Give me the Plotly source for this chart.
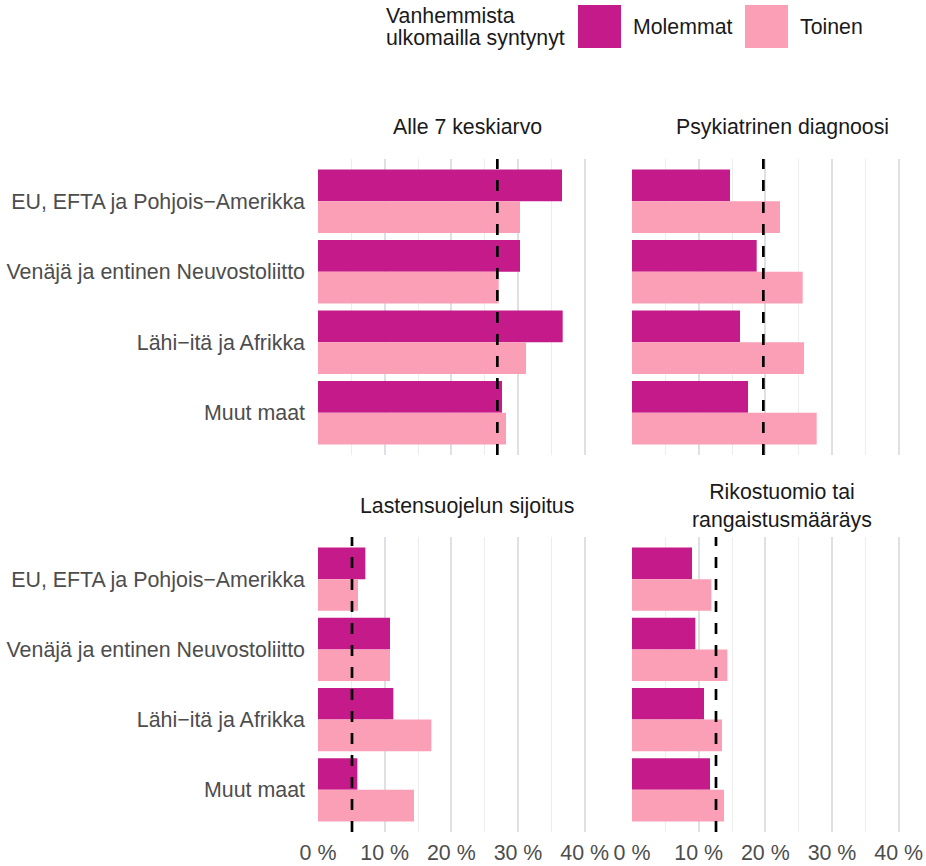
"""Facetted bar chart — outcomes by parents' region of birth."""

import plotly.graph_objects as go

# ------------------------------------------------------------------
# Data (percent)
# ------------------------------------------------------------------
categories = [
    "EU, EFTA ja Pohjois−Amerikka",
    "Venäjä ja entinen Neuvostoliitto",
    "Lähi−itä ja Afrikka",
    "Muut maat",
]
panel_titles = [
    "Alle 7 keskiarvo",
    "Psykiatrinen diagnoosi",
    "Lastensuojelun sijoitus",
    "Rikostuomio tai<br>rangaistusmääräys",
]
molemmat = [
    [36.6, 30.3, 36.7, 27.6],   # Alle 7 keskiarvo
    [14.7, 18.7, 16.2, 17.4],   # Psykiatrinen diagnoosi
    [7.1, 10.8, 11.3, 5.9],     # Lastensuojelun sijoitus
    [9.0, 9.5, 10.8, 11.7],     # Rikostuomio
]
toinen = [
    [30.3, 27.1, 31.2, 28.2],
    [22.2, 25.6, 25.8, 27.7],
    [6.0, 10.8, 17.0, 14.4],
    [11.9, 14.3, 13.5, 13.8],
]
averages = [26.9, 19.7, 5.1, 12.6]
tick_vals = [0, 10, 20, 30, 40]
tick_text = ["0 %", "10 %", "20 %", "30 %", "40 %"]

# ------------------------------------------------------------------
# Style
# ------------------------------------------------------------------
W, H = 926, 866


def px(x):
    return x / W


def py(y):
    return 1 - y / H


C_MOL = "#C51B8A"
C_TOI = "#FA9FB5"
GRID_MAJOR = "#DDE0E4"
GRID_MINOR = "#EDEDED"
FONT = "Liberation Sans, Arial, sans-serif"
TICK_SIZE = 21.4
TEXT_SIZE = 21.3
X_MAX = 41

# panel screen boxes
px_per_pct = 6.667
cols = [318, 632]
rows = [(159, 455), (537, 832)]

fig = go.Figure()

for i in range(4):
    r, c = divmod(i, 2)
    n = "" if i == 0 else str(i + 1)
    xa, ya = "x" + n, "y" + n
    fig.add_trace(go.Bar(
        y=categories, x=molemmat[i], orientation="h", name="Molemmat",
        marker_color=C_MOL, marker_line_width=0, xaxis=xa, yaxis=ya,
        showlegend=False,
    ))
    fig.add_trace(go.Bar(
        y=categories, x=toinen[i], orientation="h", name="Toinen",
        marker_color=C_TOI, marker_line_width=0, xaxis=xa, yaxis=ya,
        showlegend=False,
    ))

    x0 = cols[c]
    x1 = x0 + X_MAX * px_per_pct
    top, bot = rows[r]
    fig.layout["xaxis" + n] = dict(
        domain=[px(x0), px(x1)],
        anchor=ya,
        range=[0, X_MAX],
        automargin=False,
        tickvals=tick_vals,
        ticktext=tick_text,
        showticklabels=(r == 1),
        tickfont=dict(size=TICK_SIZE, color="#4D4D4D"),
        ticklabelstandoff=6,
        showgrid=True,
        gridcolor=GRID_MAJOR,
        gridwidth=2,
        zeroline=False,
        showline=False,
        ticks="",
        minor=dict(tickvals=[5, 15, 25, 35], showgrid=True,
                   gridcolor=GRID_MINOR, gridwidth=1),
        fixedrange=True,
    )
    fig.layout["yaxis" + n] = dict(
        domain=[py(bot), py(top)],
        anchor=xa,
        type="category",
        categoryorder="array",
        categoryarray=categories,
        range=[3.6, -0.6],
        automargin=False,
        showticklabels=(c == 0),
        tickfont=dict(size=TICK_SIZE, color="#4D4D4D"),
        ticklabelstandoff=12,
        showgrid=False,
        zeroline=False,
        showline=False,
        ticks="",
        fixedrange=True,
    )

    # average (dashed reference line)
    fig.add_shape(
        type="line", xref=xa, yref=ya + " domain",
        x0=averages[i], x1=averages[i], y0=0, y1=1,
        line=dict(color="black", width=2.7, dash="11px,11px"),
        layer="above",
    )

    # panel title
    fig.add_annotation(
        text=panel_titles[i], xref="paper", yref="paper",
        x=px(467 if c == 0 else 782), y=py(127 if r == 0 else 506),
        xanchor="center", yanchor="middle",
        showarrow=False, font=dict(size=TEXT_SIZE, color="#1A1A1A"),
    )

# ------------------------------------------------------------------
# Manual legend (title lines placed one by one for tighter spacing)
# ------------------------------------------------------------------
for line, ly in [("Vanhemmista", 16), ("ulkomailla syntynyt", 38)]:
    fig.add_annotation(
        text=line, xref="paper", yref="paper",
        x=px(384), y=py(ly), xanchor="left", yanchor="middle",
        showarrow=False, font=dict(size=TEXT_SIZE, color="#1A1A1A"),
    )
for sx, color, label in [(578, C_MOL, "Molemmat"), (745, C_TOI, "Toinen")]:
    fig.add_shape(
        type="rect", xref="paper", yref="paper",
        x0=px(sx), x1=px(sx + 43), y0=py(48), y1=py(5),
        fillcolor=color, line_width=0,
    )
    fig.add_annotation(
        text=label, xref="paper", yref="paper",
        x=px(sx + 53), y=py(27), xanchor="left", yanchor="middle",
        showarrow=False, font=dict(size=TEXT_SIZE, color="#1A1A1A"),
    )

fig.update_layout(
    width=W,
    height=H,
    margin=dict(l=0, r=0, t=0, b=0),
    barmode="group",
    bargap=0.1,
    bargroupgap=0,
    plot_bgcolor="white",
    paper_bgcolor="white",
    font=dict(family=FONT, color="#1A1A1A"),
    showlegend=False,
)

# drop the default page margin so the figure fills the window exactly
fig.write_html(
    "out.html",
    config={"displayModeBar": False},
    post_script="document.body.style.margin='0';document.body.style.overflow='hidden';",
)
